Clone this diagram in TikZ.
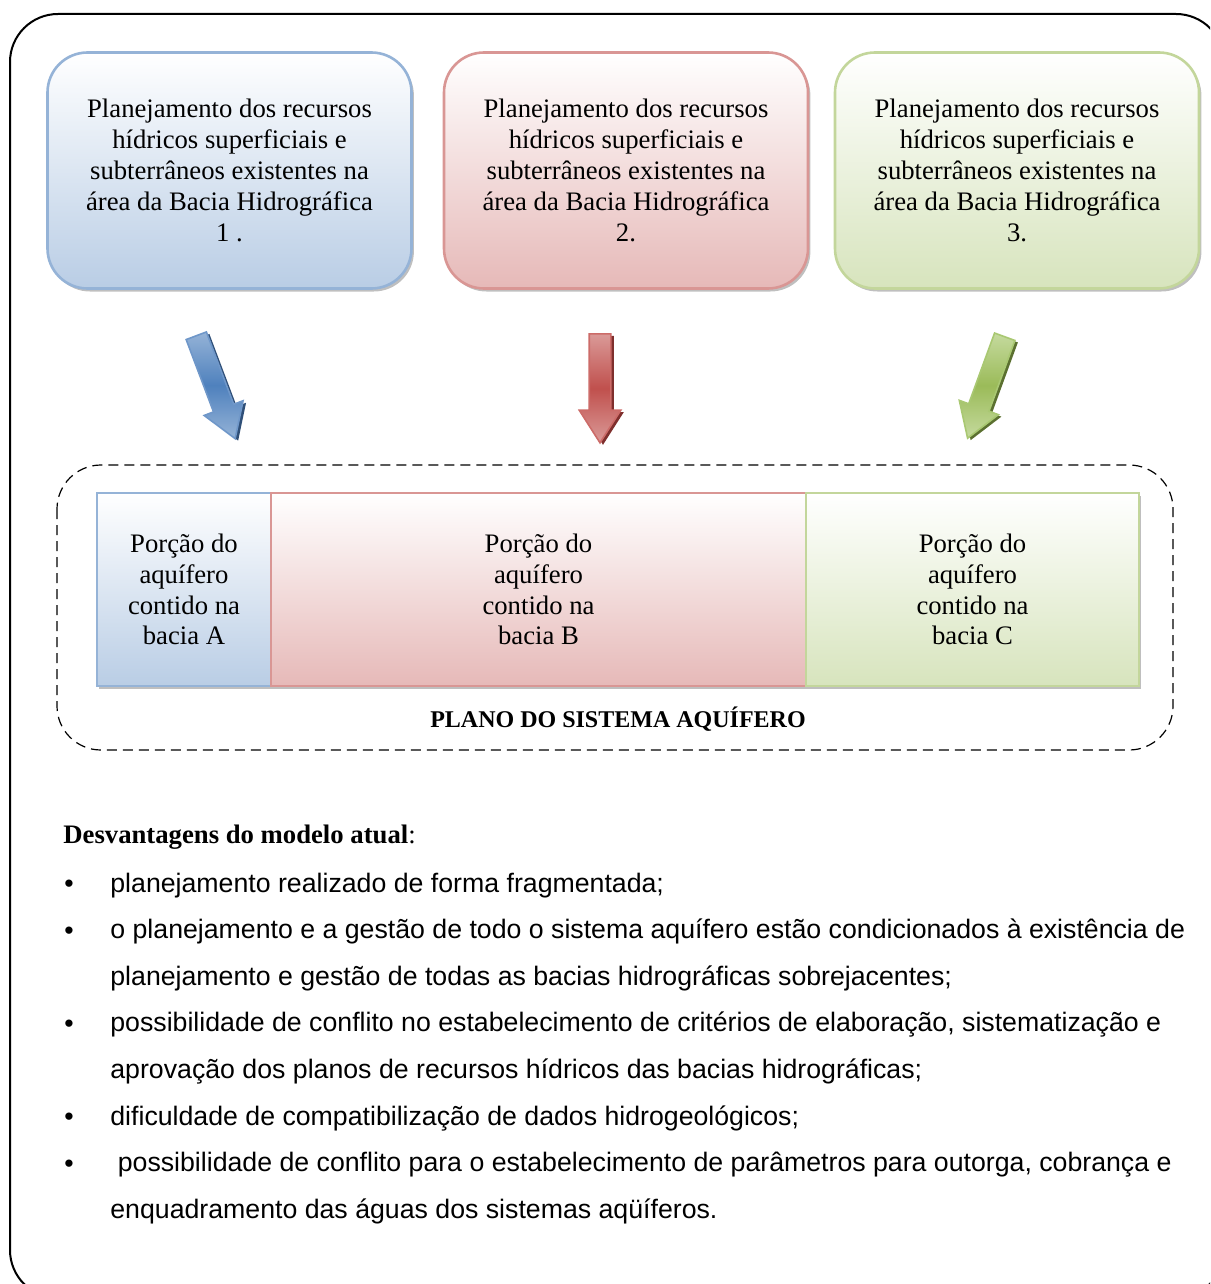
\documentclass[tikz,border=0pt]{standalone}
\usepackage{fontspec}
\setmainfont{Liberation Serif}
\newfontfamily\arialfont{Liberation Sans}
\usetikzlibrary{arrows.meta,positioning,shapes.arrows,shadows}

\definecolor{blueline}{HTML}{95B3D7}
\definecolor{bluefill}{HTML}{B9CDE5}
\definecolor{redline}{HTML}{D99694}
\definecolor{redfill}{HTML}{E6B9B8}
\definecolor{greenline}{HTML}{C3D69B}
\definecolor{greenfill}{HTML}{D7E4BD}
\definecolor{bluedark}{HTML}{4F81BD}
\definecolor{bluelight}{HTML}{95B3D7}
\definecolor{blueedge}{HTML}{6F97C9}
\definecolor{blueshade}{HTML}{2F4F78}
\definecolor{reddark}{HTML}{C0504D}
\definecolor{redlight}{HTML}{DA9A98}
\definecolor{rededge}{HTML}{CC6B68}
\definecolor{redshade}{HTML}{7F2F2D}
\definecolor{greendark}{HTML}{9BBB59}
\definecolor{greenlight}{HTML}{C5DA9E}
\definecolor{greenedge}{HTML}{A9C872}
\definecolor{greenshade}{HTML}{5B7030}

\begin{document}
\begin{tikzpicture}[x=0.5pt,y=-0.5pt,
  plan/.style={draw=#1line,line width=1.3pt,rounded corners=20pt,top color=white,bottom color=#1fill,
    minimum width=182pt,minimum height=118pt,align=center,inner sep=2pt,
    font=\fontsize{13.35}{15.4}\selectfont,
    drop shadow={shadow xshift=1.2pt,shadow yshift=-1.5pt,fill=black!50,opacity=.5}},
  portion/.style={draw=#1line,line width=1.3pt,top color=white,bottom color=#1fill,
    minimum height=96.5pt,align=center,inner sep=2pt,outer sep=0pt,
    font=\fontsize{13.35}{15.4}\selectfont,
    drop shadow={shadow xshift=1.2pt,shadow yshift=-1.5pt,fill=black!50,opacity=.5}},
  blockarrow/.style={single arrow,draw=#1edge,line width=0.8pt,anchor=tail,
    top color=#1light,bottom color=#1light,middle color=#1dark,
    text height=0pt,text depth=0pt,inner xsep=0pt,inner ysep=5pt,minimum height=55pt,
    single arrow head extend=5pt,single arrow tip angle=65,
    drop shadow={shadow xshift=1.5pt,shadow yshift=-1pt,fill=#1shade,opacity=1}},
  point/.style={anchor=base west,align=left,inner sep=0pt,
    font=\arialfont\fontsize{13.35}{23.35}\selectfont}]
\useasboundingbox (0,0) rectangle (1210,1284);
\clip (0,0) rectangle (1210,1284);
\draw[line width=1pt,rounded corners=24pt] (10,14) rectangle (1224,1298);

% planos das bacias
\node[plan=blue] (p1) at (229.5,170.5) {Planejamento dos recursos\\hídricos superficiais e\\subterrâneos existentes na\\área da Bacia Hidrográfica\\1 .};
\node[plan=red] (p2) at (626,170.5) {Planejamento dos recursos\\hídricos superficiais e\\subterrâneos existentes na\\área da Bacia Hidrográfica\\2.};
\node[plan=green] (p3) at (1017,170.5) {Planejamento dos recursos\\hídricos superficiais e\\subterrâneos existentes na\\área da Bacia Hidrográfica\\3.};

\node[blockarrow=blue,rotate=-69.3] (a1) at (196,335) {};
\node[blockarrow=red,rotate=-90,minimum height=54.5pt] (a2) at (600,333) {};
\node[blockarrow=green,rotate=-110.1,minimum height=54pt] (a3) at (1005,336) {};

% sistema aquifero
\draw[dash pattern=on 5pt off 3pt,line width=0.6pt,rounded corners=22pt] (57,465) rectangle (1173,750);
\node[portion=blue,minimum width=87pt] (b1) at (184,589.5) {Porção do\\aquífero\\contido na\\bacia A};
\node[portion=red,minimum width=267.5pt,anchor=west] (b2) at (b1.east) {Porção do\\aquífero\\contido na\\bacia B};
\node[portion=green,minimum width=166.5pt,anchor=west] (b3) at (b2.east) {Porção do\\aquífero\\contido na\\bacia C};
\node[font=\bfseries\fontsize{12}{14}\selectfont] (plano) at (618,719) {PLANO DO SISTEMA AQUÍFERO};

% desvantagens
\node[anchor=base west,inner sep=0pt,font=\fontsize{13.35}{15.4}\selectfont] (desv) at (63,843) {\textbf{Desvantagens do modelo atual}:};
\foreach \y/\yy/\txt [count=\i] in {892/892/{planejamento realizado de forma fragmentada;},
  939/985/{o planejamento e a gestão de todo o sistema aquífero estão condicionados à existência de\\planejamento e gestão de todas as bacias hidrográficas sobrejacentes;},
  1032/1078/{possibilidade de conflito no estabelecimento de critérios de elaboração, sistematização e\\aprovação dos planos de recursos hídricos das bacias hidrográficas;},
  1125/1125/{dificuldade de compatibilização de dados hidrogeológicos;},
  1172/1218/{\ possibilidade de conflito para o estabelecimento de parâmetros para outorga, cobrança e\\enquadramento das águas dos sistemas aqüíferos.}}{
  \node[point,anchor=base] (m\i) at (69,\y) {\textbullet};
  \node[point] (t\i) at (110,\yy) {\txt};
}
\end{tikzpicture}
\end{document}
